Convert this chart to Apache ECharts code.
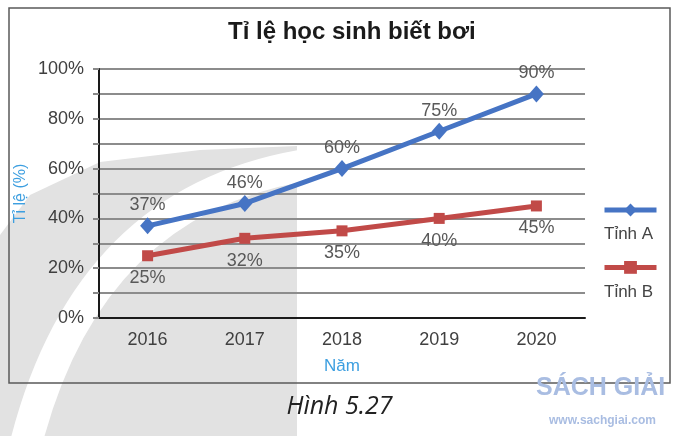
<!DOCTYPE html>
<html>
<head>
<meta charset="utf-8">
<script src="https://cdn.jsdelivr.net/npm/echarts@6/dist/echarts.min.js"></script>
<style>
  html, body { margin: 0; padding: 0; background: #fff; }
  #chart { width: 679px; height: 436px; }
</style>
</head>
<body>
<div id="chart"></div>
<script>
// data
const years = ['2016', '2017', '2018', '2019', '2020'];
const tinhA = [37, 46, 60, 75, 90];
const tinhB = [25, 32, 35, 40, 45];
const seriesNames = ['Tỉnh A', 'Tỉnh B'];

const font = 'Liberation Sans, Arial, sans-serif';

let ec = echarts.init(document.getElementById('chart'), null, { renderer: 'canvas' });

let option = {
    backgroundColor: '#fff',
    animation: false,
    title: {
        text: 'Tỉ lệ học sinh biết bơi',
        left: 223,
        top: 15,
        textStyle: { fontFamily: font, fontSize: 24, fontWeight: 'bold', color: '#1a1a1a' }
    },
    // watermark + frame + caption
    graphic: [
        {
            type: 'polygon', z: -100, silent: true,
            shape: { points: [[0, 436], [0, 235], [30, 195], [100, 162], [200, 150], [297, 146], [297, 436]] },
            style: { fill: '#e2e2e2' }
        },
        {
            type: 'bezierCurve', z: -99, silent: true,
            shape: { x1: 22, y1: 460, cpx1: 80, cpy1: 205, x2: 300, y2: 166 },
            style: { fill: null, stroke: '#fff', lineWidth: 32 }
        },
        {
            type: 'rect', z: -98, silent: true,
            shape: { x: 9, y: 8, width: 661, height: 375 },
            style: { fill: null, stroke: '#5a5a5a', lineWidth: 1.5 }
        },
        {
            type: 'text', left: 'center', top: 394, silent: true,
            style: { text: 'Hình 5.27', font: 'italic 25px "Open Sans", sans-serif', fill: '#222' }
        },
        {
            type: 'text', left: 536, top: 376, silent: true,
            style: { text: 'SÁCH GIẢI', font: 'bold 25px "Liberation Sans", sans-serif', fill: '#a9bde2' }
        },
        {
            type: 'text', left: 549, top: 415, silent: true,
            style: { text: 'www.sachgiai.com', font: 'bold 12px "Liberation Sans", sans-serif', fill: '#a9bde2' }
        }
    ],
    legend: [
        {
            // icons only
            orient: 'vertical',
            left: 597,
            top: 197,
            itemWidth: 52,
            itemHeight: 16,
            itemGap: 43,
            selectedMode: false,
            data: seriesNames,
            lineStyle: { width: 5 },
            formatter: () => ''
        },
        {
            // names below icons
            orient: 'vertical',
            left: 594,
            top: 221,
            itemWidth: 0,
            itemHeight: 0,
            itemGap: 41,
            selectedMode: false,
            icon: 'rect',
            data: seriesNames,
            textStyle: { fontFamily: font, fontSize: 17, color: '#444' }
        }
    ],
    grid: { left: 99, right: 94, top: 69, bottom: 118 },
    xAxis: {
        type: 'category',
        data: years,
        name: 'Năm',
        nameLocation: 'middle',
        nameGap: 40,
        nameTextStyle: { fontFamily: font, fontSize: 17, color: '#3d9fe0' },
        axisLine: { lineStyle: { color: '#1a1a1a', width: 2 } },
        axisTick: { alignWithLabel: true, length: 5, lineStyle: { color: '#888', width: 2 } },
        axisLabel: { fontFamily: font, fontSize: 18, color: '#404040', margin: 13 }
    },
    yAxis: {
        type: 'value',
        min: 0,
        max: 100,
        interval: 10,
        name: 'Tỉ lệ (%)',
        nameLocation: 'middle',
        nameGap: 70,
        nameMoveOverlap: false,
        nameTextStyle: { fontFamily: font, fontSize: 16, color: '#3d9fe0' },
        axisLine: { show: true, lineStyle: { color: '#1a1a1a', width: 2 } },
        axisTick: { show: true, length: 6, lineStyle: { color: '#888', width: 2 } },
        axisLabel: {
            fontFamily: font, fontSize: 18, color: '#404040', margin: 15,
            formatter: v => (v % 20 === 0 ? v + '%' : '')
        },
        splitLine: { lineStyle: { color: '#8c8c8c', width: 2 } }
    },
    series: [
        {
            name: seriesNames[0],
            type: 'line',
            data: tinhA,
            symbol: 'diamond',
            symbolSize: [15, 17],
            lineStyle: { color: '#4674c4', width: 5 },
            itemStyle: { color: '#4674c4' },
            label: {
                show: true, position: 'top', distance: 3,
                formatter: p => p.value + '%',
                fontFamily: font, fontSize: 18, color: '#595959'
            }
        },
        {
            name: seriesNames[1],
            type: 'line',
            data: tinhB,
            symbol: 'rect',
            symbolSize: 11,
            lineStyle: { color: '#c14a48', width: 5 },
            itemStyle: { color: '#c14a48' },
            label: {
                show: true, position: 'bottom', distance: 8,
                formatter: p => p.value + '%',
                fontFamily: font, fontSize: 18, color: '#595959'
            }
        }
    ]
};

ec.setOption(option);
</script>
</body>
</html>
